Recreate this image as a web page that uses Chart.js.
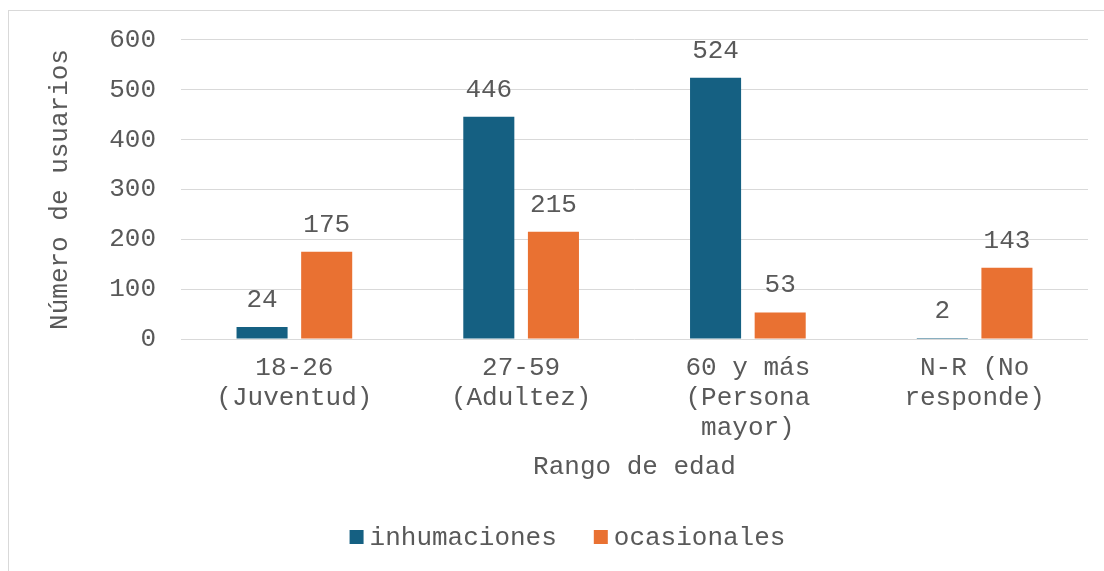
<!DOCTYPE html>
<html>
<head>
<meta charset="utf-8">
<script src="https://cdn.jsdelivr.net/npm/chart.js@4"></script>
<style>
    html, body { margin: 0; padding: 0; background: #fff; overflow: hidden; }
    .frame {
        position: absolute; left: 8px; top: 10px; width: 1200px; height: 700px;
        border-left: 1px solid #d9d9d9; border-top: 1px solid #d9d9d9;
    }
    .wrap { position: absolute; left: 0; top: 0; width: 1104px; height: 571px; }
</style>
</head>
<body>
<div class="frame"></div>
<div class="wrap"><canvas id="chart"></canvas></div>
<script>
const categories = [
    ['18-26', '(Juventud)'],
    ['27-59', '(Adultez)'],
    ['60 y más', '(Persona', 'mayor)'],
    ['N-R (No', 'responde)'],
];
const inhumaciones = [24, 446, 524, 2];
const ocasionales = [175, 215, 53, 143];
const yTicks = [0, 100, 200, 300, 400, 500, 600];

const textColor = '#595959';
const fontFamily = '"Liberation Mono", "Courier New", monospace';
const font = { family: fontFamily, size: 26, lineHeight: 1.15 };

// value labels above each bar
const valueLabels = {
    id: 'valueLabels',
    afterDatasetsDraw(chart) {
        const ctx = chart.ctx;
        ctx.save();
        ctx.font = '26px ' + fontFamily;
        ctx.fillStyle = textColor;
        ctx.textAlign = 'center';
        ctx.textBaseline = 'middle';
        chart.data.datasets.forEach((ds, i) => {
            chart.getDatasetMeta(i).data.forEach((bar, j) => {
                ctx.fillText(String(ds.data[j]), bar.x, bar.y - 27);
            });
        });
        ctx.restore();
    },
};

// legend drawn at the bottom, Excel style
const bottomLegend = {
    id: 'bottomLegend',
    afterDraw(chart) {
        const ctx = chart.ctx;
        ctx.save();
        ctx.font = '26px ' + fontFamily;
        ctx.textBaseline = 'middle';
        const box = 14, gap = 6, spacing = 37;
        const items = chart.data.datasets.map(ds => ({ label: ds.label, color: ds.backgroundColor }));
        let total = 0;
        items.forEach((it, i) => {
            it.w = box + gap + ctx.measureText(it.label).width;
            total += it.w + (i > 0 ? spacing : 0);
        });
        let x = 567.5 - total / 2;
        const y = 537;
        items.forEach(it => {
            ctx.fillStyle = it.color;
            ctx.fillRect(x, y - box / 2, box, box);
            ctx.fillStyle = textColor;
            ctx.fillText(it.label, x + box + gap, y + 1);
            x += it.w + spacing;
        });
        ctx.restore();
    },
};

new Chart(document.getElementById('chart'), {
    type: 'bar',
    data: {
        labels: categories,
        datasets: [
            {
                label: 'inhumaciones',
                data: inhumaciones,
                backgroundColor: '#156082',
                categoryPercentage: 0.57,
                barPercentage: 0.79,
            },
            {
                label: 'ocasionales',
                data: ocasionales,
                backgroundColor: '#E97132',
                categoryPercentage: 0.57,
                barPercentage: 0.79,
            },
        ],
    },
    options: {
        responsive: true,
        maintainAspectRatio: false,
        animation: false,
        layout: { padding: { left: 0, right: 16, top: 39, bottom: 89 } },
        plugins: {
            legend: { display: false },
            tooltip: { enabled: false },
        },
        scales: {
            x: {
                grid: { display: false, drawTicks: false },
                border: { display: false },
                ticks: { color: textColor, font: font, padding: 14, maxRotation: 0, autoSkip: false },
                title: {
                    display: true,
                    text: 'Rango de edad',
                    color: textColor,
                    font: font,
                    padding: { top: 0, bottom: 0 },
                },
                afterFit(scale) { scale.height = 143; },
            },
            y: {
                min: 0,
                max: 600,
                afterBuildTicks(scale) { scale.ticks = yTicks.map(v => ({ value: v })); },
                grid: { color: '#d9d9d9', lineWidth: 1, drawTicks: false },
                border: { display: false },
                ticks: { color: textColor, font: font, padding: 25 },
                title: {
                    display: true,
                    text: 'Número de usuarios',
                    color: textColor,
                    font: font,
                    padding: { top: 45, bottom: 0 },
                },
                afterFit(scale) { scale.width = 181; },
            },
        },
    },
    plugins: [valueLabels, bottomLegend],
});
</script>
</body>
</html>
